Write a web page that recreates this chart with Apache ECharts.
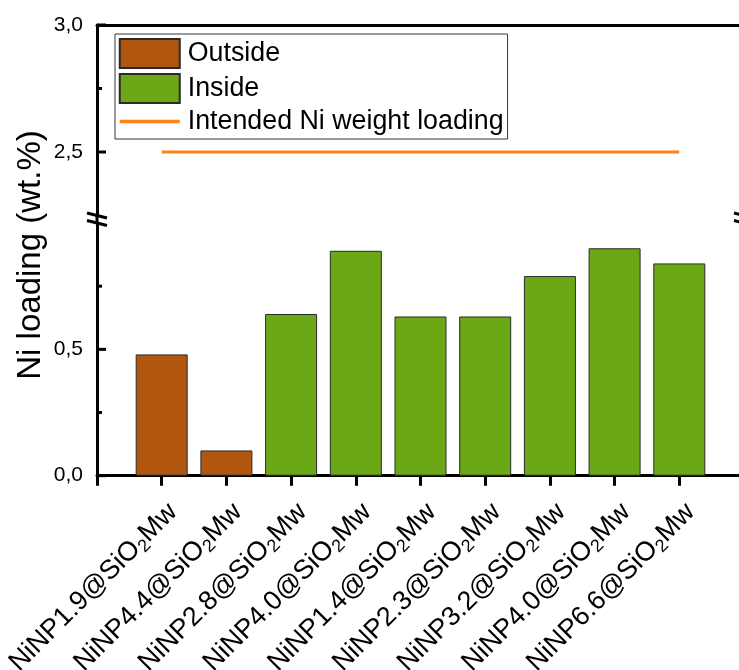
<!DOCTYPE html>
<html>
<head>
<meta charset="utf-8">
<title>Ni loading</title>
<script src="https://cdn.jsdelivr.net/npm/echarts@6/dist/echarts.min.js"></script>
<style>
  html, body { margin: 0; padding: 0; background: #fff; }
  #chart { width: 739px; height: 670px; }
</style>
</head>
<body>
<div id="chart"></div>
<script>
// Sample names (NiNPx.x@SiO2Mw), in plotting order
const sampleNames = ['NiNP1.9', 'NiNP4.4', 'NiNP2.8', 'NiNP4.0', 'NiNP1.4', 'NiNP2.3', 'NiNP3.2', 'NiNP4.0', 'NiNP6.6'];
// Measured Ni loading (wt.%) — particles located outside / inside the support
const outsideLoading = [0.48, 0.10, null, null, null, null, null, null, null];
const insideLoading  = [null, null, 0.64, 0.89, 0.63, 0.63, 0.79, 0.90, 0.84];
// Nominal loading targeted during synthesis
const intendedLoading = [2.5, 2.5, 2.5, 2.5, 2.5, 2.5, 2.5, 2.5, 2.5];
// Tick values of the broken y axis
const lowerTicks = [0, 0.5];
const lowerMinorTicks = [0.25, 0.75];
const upperTicks = [2.5, 3.0];
const upperMinorTicks = [2.75];

const FONT = '"Liberation Sans", Arial, sans-serif';
const BLACK = '#000';

// samples sit at x = 1..9 on a 0..10 value axis
function toPairs(arr) {
  const out = [];
  arr.forEach((v, i) => { if (v !== null) out.push([i + 1, v]); });
  return out;
}
const fmtComma = v => v.toFixed(1).replace('.', ',');

const chart = echarts.init(document.getElementById('chart'), null, { renderer: 'canvas' });

const GRID_LEFT = 97, GRID_W = 647;
const UP_TOP = 25, UP_H = 190.5;
const LO_TOP = 223, LO_H = 252.7;

function yAxis(grid, min, max, interval, labels) {
  return {
    type: 'value', gridIndex: grid, position: 'left', min: min, max: max, interval: interval,
    splitLine: { show: false },
    axisLine: { show: true, onZero: false, lineStyle: { color: BLACK, width: 3 } },
    axisTick: { show: false },
    axisLabel: { show: true, customValues: labels, margin: 14, fontFamily: FONT, fontSize: 21, color: BLACK, formatter: fmtComma }
  };
}

const option = {
  animation: false,
  backgroundColor: '#fff',
  textStyle: { fontFamily: FONT },
  grid: [
    { left: GRID_LEFT, top: UP_TOP, width: GRID_W, height: UP_H, outerBoundsMode: 'none', containLabel: false },
    { left: GRID_LEFT, top: LO_TOP, width: GRID_W, height: LO_H, outerBoundsMode: 'none', containLabel: false }
  ],
  xAxis: [
    {
      type: 'value', gridIndex: 0, min: 0, max: 10, interval: 1, position: 'top',
      axisLine: { show: true, onZero: false, lineStyle: { color: BLACK, width: 3 } },
      axisTick: { show: false }, axisLabel: { show: false }, splitLine: { show: false }
    },
    {
      type: 'value', gridIndex: 1, min: 0, max: 10, interval: 1, position: 'bottom',
      axisLine: { show: true, onZero: false, lineStyle: { color: BLACK, width: 3 } },
      axisTick: { show: true, inside: false, length: 10, lineStyle: { color: BLACK, width: 3 } },
      splitLine: { show: false },
      axisLabel: {
        show: true, rotate: 45, margin: 21, interval: 0, verticalAlign: 'top',
        formatter: v => {
          const name = sampleNames[v - 1];
          return name ? '{n|' + name + '@SiO}{s|2}{n|Mw}' : '';
        },
        rich: {
          n: { fontFamily: FONT, fontSize: 27, color: BLACK, lineHeight: 32 },
          s: { fontFamily: FONT, fontSize: 18, color: BLACK, lineHeight: 18, verticalAlign: 'bottom' }
        }
      }
    }
  ],
  yAxis: [
    yAxis(0, 2.25, 3.0, 0.25, upperTicks),
    yAxis(1, 0, 1.0, 0.5, lowerTicks)
  ],
  legend: {
    orient: 'vertical', left: 115, top: 34,
    padding: [4, 4, 4, 3], itemGap: 4, itemWidth: 60, itemHeight: 29,
    borderColor: '#333', borderWidth: 1, backgroundColor: '#fff',
    textStyle: { fontFamily: FONT, fontSize: 26.8, color: BLACK, padding: [0, 0, 0, 3] },
    data: [
      { name: 'Outside', icon: 'rect' },
      { name: 'Inside', icon: 'rect' },
      { name: 'Intended Ni weight loading', itemStyle: { opacity: 0 }, lineStyle: { width: 3.5 } }
    ]
  },
  series: [
    {
      name: 'Outside', type: 'bar', xAxisIndex: 1, yAxisIndex: 1, stack: 'loading',
      barWidth: 52, data: toPairs(outsideLoading),
      itemStyle: { color: '#b1560f', borderColor: '#2a2a2a', borderWidth: 1 }
    },
    {
      name: 'Inside', type: 'bar', xAxisIndex: 1, yAxisIndex: 1, stack: 'loading',
      barWidth: 52, data: toPairs(insideLoading),
      itemStyle: { color: '#6ba815', borderColor: '#2a2a2a', borderWidth: 1 }
    },
    {
      name: 'Intended Ni weight loading', type: 'line', xAxisIndex: 0, yAxisIndex: 0,
      data: toPairs(intendedLoading), symbol: 'none',
      lineStyle: { color: '#ff8216', width: 3 }, itemStyle: { color: '#ff8216', opacity: 0 }
    }
  ]
};

chart.setOption(option);

// axis title, inward y ticks and the axis break ("//" marks on both sides, axis bridged across the gap)
function decorations() {
  const yTop = chart.convertToPixel({ yAxisIndex: 0 }, 2.25);
  const yBot = chart.convertToPixel({ yAxisIndex: 1 }, 1.0);
  const xL = chart.convertToPixel({ xAxisIndex: 1 }, 0);
  const xR = chart.convertToPixel({ xAxisIndex: 1 }, 10);
  const seg = (x1, y1, x2, y2, z) => ({
    type: 'line', shape: { x1: x1, y1: y1, x2: x2, y2: y2 },
    style: { stroke: BLACK, lineWidth: 3 }, z: z || 10
  });
  const els = [
    {
      type: 'text', x: 31, y: 255, rotation: Math.PI / 2,
      style: { text: 'Ni loading (wt.%)', font: '33px ' + FONT, fill: BLACK, align: 'center', verticalAlign: 'middle' }
    },
    seg(xL, yTop, xL, yBot)
  ];
  const addTicks = (axisIndex, values, len) => values.forEach(v => {
    const y = chart.convertToPixel({ yAxisIndex: axisIndex }, v);
    els.push(seg(xL, y, xL + len, y));
  });
  addTicks(0, upperTicks, 9);
  addTicks(0, upperMinorTicks, 5);
  addTicks(1, lowerTicks, 9);
  addTicks(1, lowerMinorTicks, 5);
  [xL, xR].forEach(x => {
    [yTop, yBot].forEach(y => els.push(seg(x - 10, y - 2.5, x + 10, y + 2.5, 11)));
  });
  return els;
}
chart.setOption({ graphic: decorations() });
</script>
</body>
</html>
